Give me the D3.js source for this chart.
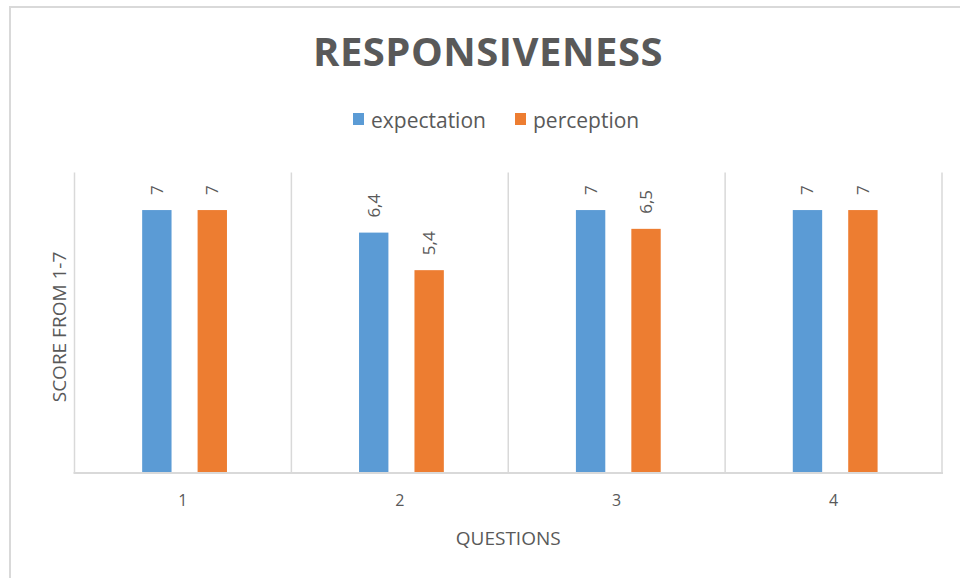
<!DOCTYPE html>
<html>
<head>
<meta charset="utf-8">
<script src="https://cdn.jsdelivr.net/npm/d3@7"></script>
<style>
  html, body { margin: 0; padding: 0; background: #fff; }
  svg { display: block; }
  text { font-family: "Open Sans", sans-serif; fill: #595959; }
</style>
</head>
<body>
<svg id="chart" width="960" height="578"></svg>
<script>
// Responsiveness survey: mean scores (1-7) per question
const questions = ["1", "2", "3", "4"];
const seriesNames = ["expectation", "perception"];
const expectation = [7, 6.4, 7, 7];
const perception = [7, 5.4, 6.5, 7];
const seriesColors = ["#5B9BD5", "#ED7D31"];
const yDomain = [0, 8];

const rows = questions.map((q, i) => ({
  q,
  values: [
    { key: seriesNames[0], value: expectation[i] },
    { key: seriesNames[1], value: perception[i] }
  ]
}));

const svg = d3.select("#chart");
const W = 960, H = 578;
const plot = { left: 74.5, right: 942, top: 172.5, bottom: 473 };

// Decimal comma formatting for the value labels
const locale = d3.formatLocale({ decimal: ",", thousands: " ", grouping: [3], currency: ["", ""] });
const fmt = locale.format("~g");

// Outer frame
svg.append("rect")
  .attr("x", 10).attr("y", 7)
  .attr("width", W + 20).attr("height", H + 20)
  .attr("fill", "none")
  .attr("stroke", "#d9d9d9")
  .attr("stroke-width", 2);

const x0 = d3.scaleBand().domain(questions).range([plot.left, plot.right]).padding(0);
const bw = x0.bandwidth();
const x1 = d3.scaleBand().domain(seriesNames)
  .range([0.312 * bw, 0.703 * bw])
  .paddingInner(0.47);
const y = d3.scaleLinear().domain(yDomain).range([plot.bottom, plot.top]);
const color = d3.scaleOrdinal().domain(seriesNames).range(seriesColors);

// Category separators
const bounds = questions.map(q => x0(q)).concat([x0(questions[questions.length - 1]) + bw]);
svg.append("g").selectAll("line").data(bounds).join("line")
  .attr("x1", d => d).attr("x2", d => d)
  .attr("y1", plot.top).attr("y2", plot.bottom)
  .attr("stroke", "#d9d9d9").attr("stroke-width", 1.5);

// Bars
const groups = svg.append("g").selectAll("g").data(rows).join("g")
  .attr("transform", d => `translate(${x0(d.q)},0)`);

groups.selectAll("rect").data(d => d.values).join("rect")
  .attr("x", d => x1(d.key))
  .attr("width", x1.bandwidth())
  .attr("y", d => y(d.value))
  .attr("height", d => y(0) - y(d.value))
  .attr("fill", d => color(d.key));

// Value labels, rotated
groups.selectAll("text.val").data(d => d.values).join("text")
  .attr("class", "val")
  .attr("transform", d => `translate(${x1(d.key) + x1.bandwidth() / 2 + 6},${y(d.value) - 15}) rotate(-90)`)
  .attr("text-anchor", "start")
  .style("font-size", "17px")
  .text(d => fmt(d.value));

// Baseline
svg.append("line")
  .attr("x1", plot.left - 1).attr("x2", plot.right + 1)
  .attr("y1", plot.bottom).attr("y2", plot.bottom)
  .attr("stroke", "#d9d9d9").attr("stroke-width", 2);

// X axis tick labels
const xAxis = svg.append("g")
  .attr("transform", `translate(0,${plot.bottom})`)
  .call(d3.axisBottom(x0).tickSize(0).tickPadding(22));
xAxis.select(".domain").remove();
xAxis.selectAll("text")
  .style("font-family", "'Open Sans', sans-serif")
  .style("font-size", "16px")
  .attr("fill", "#595959");

// Axis titles
svg.append("text")
  .attr("x", (plot.left + plot.right) / 2).attr("y", 545)
  .attr("text-anchor", "middle")
  .style("font-size", "19px")
  .text("QUESTIONS");

svg.append("text")
  .attr("transform", "translate(66,327) rotate(-90)")
  .attr("text-anchor", "middle")
  .style("font-size", "19px")
  .text("SCORE FROM 1-7");

// Title
svg.append("text")
  .attr("x", 488).attr("y", 66)
  .attr("text-anchor", "middle")
  .style("font-size", "40px")
  .style("font-weight", "bold")
  .style("letter-spacing", "0.5px")
  .text("RESPONSIVENESS");

// Legend
const legendItems = [
  { key: seriesNames[0], sx: 353, tx: 371 },
  { key: seriesNames[1], sx: 515, tx: 533 }
];
const legend = svg.append("g").selectAll("g").data(legendItems).join("g");
legend.append("rect")
  .attr("x", d => d.sx).attr("y", 113)
  .attr("width", 11).attr("height", 12)
  .attr("fill", d => color(d.key));
legend.append("text")
  .attr("x", d => d.tx).attr("y", 128)
  .style("font-size", "21px")
  .text(d => d.key);
</script>
</body>
</html>
